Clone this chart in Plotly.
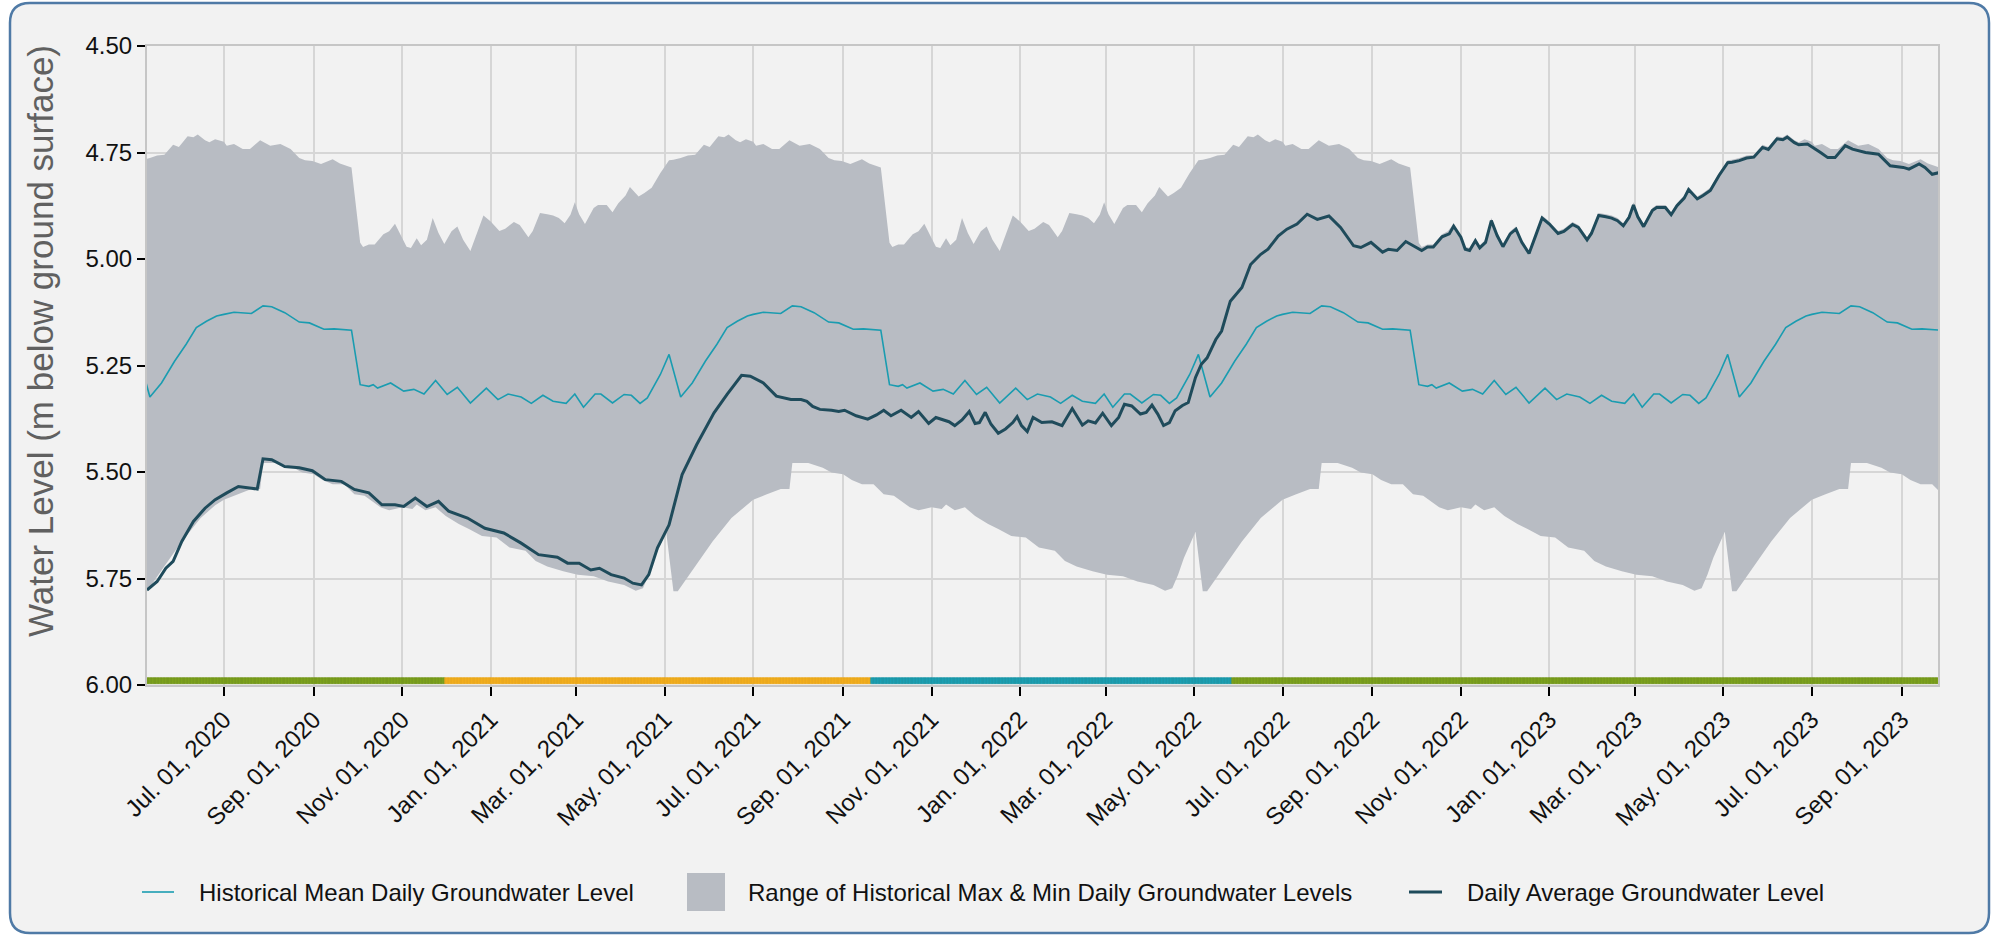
import pandas as pd
import plotly.graph_objects as go

# ---------------- data ----------------
# Daily average groundwater level (m below ground surface); x = days since 2020-07-01
avg_day = [-53, -46, -40, -35, -29, -21, -13, -6, 2, 10, 19, 23, 27, 33, 42, 52, 61, 70, 81, 90,
           100, 109, 118, 124, 132, 140, 148, 155, 168, 180, 193, 205, 217, 230, 237, 245, 253, 259,
           267, 276, 282, 288, 293, 299, 307, 316, 326, 338, 347, 357, 363, 372, 381, 391, 398, 402,
           406, 411, 419, 424, 428, 436, 444, 450, 455, 460, 467, 474, 479, 486, 491, 500, 504, 509,
           514, 518, 521, 525, 529, 534, 539, 544, 547, 550, 554, 558, 564, 571, 578, 585, 592, 596,
           601, 606, 612, 617, 621, 626, 632, 636, 640, 644, 648, 652, 656, 661, 665, 670, 674, 678,
           684, 688, 694, 702, 708, 715, 720, 727, 733, 740, 747, 754, 762, 770, 779, 784, 791, 799,
           803, 809, 815, 819, 826, 830, 834, 840, 845, 848, 853, 856, 859, 863, 866, 870, 874, 878,
           882, 887, 891, 895, 900, 905, 909, 914, 920, 924, 930, 934, 940, 943, 948, 953, 957, 961,
           965, 969, 972, 975, 979, 985, 988, 994, 998, 1002, 1007, 1010, 1016, 1020, 1025, 1031,
           1037, 1040, 1045, 1050, 1055, 1061, 1065, 1071, 1075, 1078, 1083, 1086, 1092, 1101, 1106,
           1111, 1118, 1123, 1132, 1141, 1149, 1158, 1162, 1169, 1173, 1178, 1183]
avg_val = [5.777, 5.757, 5.726, 5.710, 5.663, 5.616, 5.585, 5.565, 5.549, 5.534, 5.538, 5.540, 5.469,
           5.471, 5.487, 5.490, 5.497, 5.518, 5.522, 5.541, 5.549, 5.577, 5.577, 5.581, 5.561, 5.581,
           5.569, 5.592, 5.608, 5.632, 5.643, 5.667, 5.694, 5.700, 5.714, 5.714, 5.730, 5.726, 5.741,
           5.749, 5.761, 5.765, 5.741, 5.678, 5.624, 5.506, 5.436, 5.361, 5.318, 5.273, 5.275, 5.291,
           5.322, 5.330, 5.330, 5.334, 5.346, 5.353, 5.355, 5.358, 5.355, 5.368, 5.376, 5.366, 5.355,
           5.368, 5.355, 5.372, 5.358, 5.386, 5.372, 5.382, 5.391, 5.378, 5.358, 5.386, 5.384, 5.360,
           5.388, 5.409, 5.399, 5.384, 5.370, 5.391, 5.405, 5.372, 5.384, 5.382, 5.391, 5.351, 5.390,
           5.380, 5.385, 5.362, 5.391, 5.372, 5.341, 5.345, 5.364, 5.360, 5.343, 5.364, 5.391, 5.384,
           5.356, 5.344, 5.337, 5.278, 5.247, 5.232, 5.189, 5.169, 5.099, 5.067, 5.013, 4.989, 4.977,
           4.946, 4.930, 4.918, 4.895, 4.907, 4.899, 4.926, 4.969, 4.973, 4.961, 4.984, 4.977, 4.980,
           4.959, 4.967, 4.980, 4.972, 4.972, 4.948, 4.941, 4.923, 4.949, 4.977, 4.980, 4.957, 4.974,
           4.961, 4.910, 4.945, 4.971, 4.941, 4.930, 4.961, 4.987, 4.941, 4.904, 4.918, 4.940, 4.935,
           4.919, 4.926, 4.955, 4.940, 4.898, 4.901, 4.904, 4.910, 4.922, 4.902, 4.873, 4.901, 4.924,
           4.886, 4.879, 4.879, 4.896, 4.875, 4.857, 4.837, 4.859, 4.851, 4.839, 4.804, 4.774, 4.773,
           4.769, 4.763, 4.761, 4.738, 4.743, 4.718, 4.720, 4.714, 4.727, 4.732, 4.730, 4.750, 4.762,
           4.762, 4.734, 4.742, 4.750, 4.754, 4.781, 4.785, 4.789, 4.777, 4.785, 4.801, 4.797]

# Historical daily statistics, x = days after 1 July of each year
max_off = [0, 2, 7, 13, 18, 25, 32, 39, 46, 52, 56, 61, 67, 75, 80, 84, 88, 94, 96, 100, 104, 110,
           114, 118, 122, 126, 129, 133, 136, 140, 144, 148, 152, 157, 161, 165, 170, 175, 179, 184,
           190, 194, 200, 204, 210, 213, 218, 223, 227, 231, 235, 239, 242, 245, 249, 255, 258, 264,
           268, 272, 277, 280, 286, 290, 295, 301, 307, 310, 315, 320, 325, 331, 335, 341, 345, 348,
           353, 356, 360]
max_val = [4.725, 4.734, 4.730, 4.742, 4.742, 4.721, 4.734, 4.730, 4.742, 4.763, 4.768, 4.770, 4.777,
           4.766, 4.776, 4.781, 4.785, 4.962, 4.972, 4.966, 4.966, 4.942, 4.935, 4.917, 4.943, 4.971,
           4.974, 4.951, 4.968, 4.955, 4.904, 4.939, 4.965, 4.935, 4.924, 4.955, 4.981, 4.935, 4.898,
           4.912, 4.934, 4.929, 4.913, 4.920, 4.949, 4.934, 4.892, 4.895, 4.898, 4.904, 4.916, 4.896,
           4.867, 4.895, 4.918, 4.880, 4.873, 4.873, 4.890, 4.869, 4.851, 4.831, 4.853, 4.845, 4.833,
           4.798, 4.768, 4.767, 4.763, 4.757, 4.755, 4.732, 4.737, 4.712, 4.714, 4.708, 4.721, 4.726,
           4.719]

min_off = [0, 9, 19, 25, 27, 38, 48, 54, 62, 68, 75, 83, 90, 97, 102, 108, 114, 123, 130, 133, 139,
           146, 153, 162, 169, 178, 188, 197, 208, 215, 223, 234, 244, 255, 265, 276, 284, 289, 293,
           297, 305, 310, 313, 324, 337, 350, 360]
min_val = [5.565, 5.553, 5.540, 5.540, 5.479, 5.479, 5.490, 5.501, 5.505, 5.519, 5.529, 5.529, 5.552,
           5.556, 5.568, 5.583, 5.590, 5.583, 5.587, 5.576, 5.590, 5.583, 5.603, 5.622, 5.634, 5.650,
           5.654, 5.677, 5.685, 5.709, 5.722, 5.733, 5.741, 5.745, 5.757, 5.765, 5.779, 5.773, 5.741,
           5.702, 5.640, 5.780, 5.780, 5.726, 5.663, 5.608, 5.578]

mean_off = [0, 7, 19, 27, 33, 42, 52, 59, 69, 76, 88, 94, 100, 103, 106, 115, 124, 131, 138, 146,
            154, 161, 170, 181, 189, 196, 205, 212, 220, 227, 236, 242, 248, 256, 260, 268, 276, 281,
            287, 292, 301, 307, 315, 323, 332, 340, 347, 354, 361]
mean_val = [5.130, 5.125, 5.128, 5.110, 5.112, 5.126, 5.148, 5.150, 5.165, 5.164, 5.167, 5.295,
            5.299, 5.295, 5.303, 5.291, 5.310, 5.306, 5.317, 5.285, 5.318, 5.301, 5.338, 5.303,
            5.330, 5.317, 5.324, 5.339, 5.320, 5.334, 5.339, 5.317, 5.348, 5.317, 5.317, 5.338,
            5.318, 5.320, 5.339, 5.326, 5.271, 5.224, 5.324, 5.291, 5.240, 5.200, 5.161, 5.146,
            5.134]

cycle_years = [2019, 2020, 2021, 2022, 2023]

# Status strip along the bottom of the chart
status_start = ["2020-05-09", "2020-12-01", "2021-09-21", "2022-05-28"]
status_end = ["2020-11-30", "2021-09-20", "2022-05-27", "2023-09-26"]
status_code = ["A", "B", "C", "A"]

x_start, x_end = "2020-05-09", "2023-09-26"
y_ticks = [4.50, 4.75, 5.00, 5.25, 5.50, 5.75, 6.00]

# ---------------- styling ----------------
W, H = 1999, 936
ML, MR, MT, MB = 147, 61, 46, 251
PW, PH = W - ML - MR, H - MT - MB
FONT = "Liberation Sans, Arial, Helvetica, sans-serif"
C_MEAN = "#1a9cb0"
C_AVG = "#1f4b5b"
C_BAND = "#b8bcc3"
C_BG = "#f2f2f2"
STATUS_COLOR = {"A": "#7fa51c", "B": "#f4b01c", "C": "#1aa2b6"}
STATUS_EDGE = {"A": "#6b9112", "B": "#e8a313", "C": "#12909f"}


def px(X):
    return (X - ML) / PW


def py(Y):
    return (H - MB - Y) / PH


base = pd.Timestamp("2020-07-01")
avg_x = [base + pd.Timedelta(days=d) for d in avg_day]


def tile(offsets, values):
    xs, ys = [], []
    for yr in cycle_years:
        b = pd.Timestamp(f"{yr}-07-01")
        for o, v in zip(offsets, values):
            xs.append(b + pd.Timedelta(days=o))
            ys.append(v)
    return xs, ys


mx_x, mx_y = tile(max_off, max_val)
mn_x, mn_y = tile(min_off, min_val)
me_x, me_y = tile(mean_off, mean_val)

strip_x, strip_c, strip_e = [], [], []
for s, e, c in zip(status_start, status_end, status_code):
    days = pd.date_range(s, e, freq="D")
    strip_x += list(days)
    strip_c += [STATUS_COLOR[c]] * len(days)
    strip_e += [STATUS_EDGE[c]] * len(days)

fig = go.Figure()

fig.add_trace(go.Bar(x=strip_x, y=[0.015] * len(strip_x), base=5.983,
                     marker=dict(color=strip_c, line=dict(color=strip_e, width=0.6)),
                     showlegend=False, hoverinfo="skip"))

fig.add_trace(go.Scatter(x=mx_x, y=mx_y, mode="lines", line=dict(width=0, color=C_BAND),
                         showlegend=False, hoverinfo="skip"))
fig.add_trace(go.Scatter(x=mn_x, y=mn_y, mode="lines", line=dict(width=0, color=C_BAND),
                         fill="tonexty", fillcolor=C_BAND,
                         name="Range of Historical Max & Min Daily Groundwater Levels",
                         showlegend=False))
fig.add_trace(go.Scatter(x=me_x, y=me_y, mode="lines", line=dict(width=1.6, color=C_MEAN),
                         name="Historical Mean Daily Groundwater Level", showlegend=False))
fig.add_trace(go.Scatter(x=avg_x, y=avg_val, mode="lines", line=dict(width=3, color=C_AVG),
                         name="Daily Average Groundwater Level", showlegend=False))

# card background
X0, X1, Y0, Y1, R = 10, 1989, 3, 933, 20
path = (f"M{px(X0+R)},{py(Y0)} L{px(X1-R)},{py(Y0)} Q{px(X1)},{py(Y0)} {px(X1)},{py(Y0+R)} "
        f"L{px(X1)},{py(Y1-R)} Q{px(X1)},{py(Y1)} {px(X1-R)},{py(Y1)} "
        f"L{px(X0+R)},{py(Y1)} Q{px(X0)},{py(Y1)} {px(X0)},{py(Y1-R)} "
        f"L{px(X0)},{py(Y0+R)} Q{px(X0)},{py(Y0)} {px(X0+R)},{py(Y0)} Z")
shapes = [dict(type="path", path=path, xref="paper", yref="paper", layer="below",
               fillcolor=C_BG, line=dict(color="#4f7aa6", width=2.5))]

# custom legend
LY = 892
shapes += [
    dict(type="line", xref="paper", yref="paper", x0=px(142), x1=px(174), y0=py(LY), y1=py(LY),
         line=dict(color=C_MEAN, width=1.6)),
    dict(type="rect", xref="paper", yref="paper", x0=px(687), x1=px(725), y0=py(873), y1=py(911),
         fillcolor=C_BAND, line=dict(width=0)),
    dict(type="line", xref="paper", yref="paper", x0=px(1409), x1=px(1442), y0=py(LY), y1=py(LY),
         line=dict(color=C_AVG, width=3)),
]
legend_items = [(197, "Historical Mean Daily Groundwater Level"),
                (746, "Range of Historical Max & Min Daily Groundwater Levels"),
                (1465, "Daily Average Groundwater Level")]
annotations = [dict(x=px(X), y=py(LY), xref="paper", yref="paper", text=t, showarrow=False,
                    xanchor="left", yanchor="middle", font=dict(size=24, color="#111111"))
               for X, t in legend_items]
annotations.append(dict(x=px(40), y=py(341), xref="paper", yref="paper",
                        text="Water Level (m below ground surface)", textangle=-90,
                        showarrow=False, xanchor="center", yanchor="middle",
                        font=dict(size=35, color="#606060")))

fig.update_layout(
    width=W, height=H,
    margin=dict(l=ML, r=MR, t=MT, b=MB, pad=0),
    paper_bgcolor="white", plot_bgcolor="rgba(0,0,0,0)",
    font=dict(family=FONT, size=24, color="#111111"),
    shapes=shapes, annotations=annotations,
    showlegend=False, bargap=0,
)
fig.update_xaxes(range=[x_start, x_end], tick0="2020-07-01", dtick="M2",
                 tickformat="%b. %d, %Y", tickangle=-45,
                 showgrid=True, gridcolor="#d6d6d6", gridwidth=2,
                 showline=True, linecolor="#c6c6c6", linewidth=2, mirror=True,
                 ticks="outside", ticklen=9, tickwidth=2, tickcolor="#000000",
                 tickfont=dict(size=24, color="#111111"), zeroline=False)
fig.update_yaxes(range=[6.0, 4.5], tickvals=y_ticks, tickformat=".2f",
                 showgrid=True, gridcolor="#d6d6d6", gridwidth=2,
                 showline=True, linecolor="#c6c6c6", linewidth=2, mirror=True,
                 ticks="outside", ticklen=8, tickwidth=2, tickcolor="#000000",
                 tickfont=dict(size=24, color="#111111"), zeroline=False)

fig.write_html("out.html", config={"displayModeBar": False},
               post_script="document.body.style.margin='0px';document.body.style.overflow='hidden';")
